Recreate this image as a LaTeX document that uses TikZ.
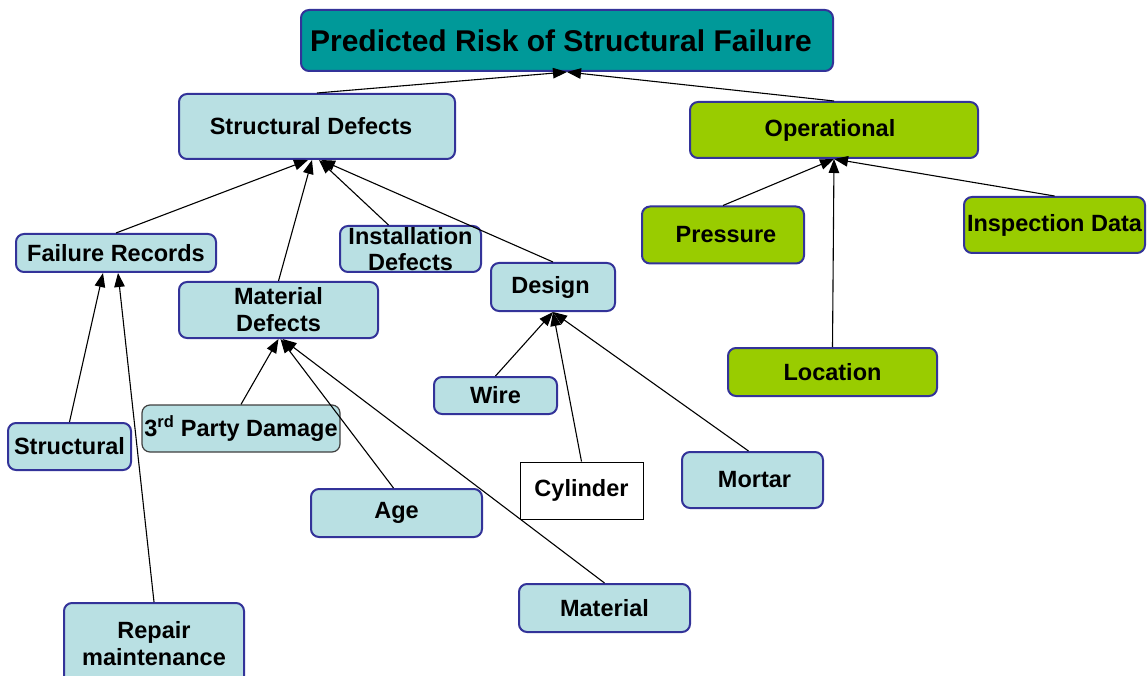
\documentclass[tikz,border=0pt]{standalone}
\usepackage{fontspec}
\setmainfont{Liberation Sans}
\usetikzlibrary{arrows.meta}
\definecolor{lblue}{HTML}{B9E0E3}
\definecolor{tealbox}{HTML}{009999}
\definecolor{lgreen}{HTML}{99CC00}
\definecolor{bblue}{HTML}{333399}
\definecolor{dgray}{HTML}{404040}
\begin{document}
\begin{tikzpicture}[x=1pt,y=-1pt,
  box/.style={draw=bblue, line width=2pt, rounded corners=8pt, fill=lblue, inner sep=0pt,
    font=\fontsize{23.5}{27}\selectfont\bfseries, align=center},
  gbox/.style={box, fill=lgreen},
  topbox/.style={box, fill=tealbox, font=\fontsize{30}{34}\selectfont\bfseries},
  grbox/.style={box, draw=dgray, line width=1.2pt},
  cbox/.style={box, draw=black, line width=1pt, rounded corners=0pt, fill=white},
  arr/.style={-{Triangle[length=14pt,width=10.5pt]}, line width=1.1pt}]
\useasboundingbox (0,0) rectangle (1148,676);

\node[topbox, minimum width=532, minimum height=61] (top) at (567,40.5) {Predicted Risk of Structural Failure\hspace*{12pt}};
\node[box, minimum width=276, minimum height=65] (sd) at (317,126.5) {Structural Defects\hspace*{12pt}};
\node[gbox, minimum width=288, minimum height=56] (op) at (834,130) {Operational\hspace*{8pt}};
\node[box, minimum width=200, minimum height=38] (fr) at (116,253) {Failure Records};
\node[box, minimum width=141, minimum height=46,
  label={[font=\fontsize{23.5}{26}\selectfont\bfseries, align=center]center:Installation\\Defects}] (inst) at (410.5,249) {};
\node[box, minimum width=199, minimum height=56] (md) at (278.5,310) {Material\\Defects};
\node[box, minimum width=124, minimum height=48] (design) at (553,287) {Design\hspace*{5pt}};
\node[gbox, minimum width=162, minimum height=57] (pres) at (723,235) {\hspace*{6pt}Pressure};
\node[gbox, minimum width=181, minimum height=56] (insp) at (1054.5,225) {Inspection Data};
\node[gbox, minimum width=209, minimum height=48] (loc) at (832.5,372) {Location};
\node[box, minimum width=123, minimum height=37] (wire) at (495.5,395.5) {Wire};
\node[grbox, minimum width=198, minimum height=47] (third) at (241,428.5) {3\textsuperscript{rd} Party Damage};
\node[box, minimum width=123, minimum height=47] (struct) at (69.5,446.5) {Structural};
\node[cbox, minimum width=123, minimum height=57] (cyl) at (581.5,490.5) {Cylinder};
\node[box, minimum width=141, minimum height=56] (mortar) at (752.5,480) {\hspace*{4pt}Mortar};
\node[box, minimum width=171, minimum height=48] (age) at (396.5,513) {Age};
\node[box, minimum width=171, minimum height=48] (mat) at (604.5,608) {Material};
\node[box, minimum width=180, minimum height=82] (rep) at (154,644) {Repair\\maintenance};

\draw[arr] (sd.north) -- (top.south);
\draw[arr] (op.north) -- (top.south);

\draw[arr] (fr.north) -- ([xshift=-9]sd.south);
\draw[arr] (md.north) -- ([xshift=-5]sd.south);
\draw[arr] ([xshift=-22]inst.north) -- ([xshift=2]sd.south);
\draw[arr] (design.north) -- ([xshift=4]sd.south);

\draw[arr] (pres.north) -- (op.south);
\draw[arr] (loc.north) -- (op.south);
\draw[arr] (insp.north) -- (op.south);

\draw[arr] (struct.north) -- ([xshift=-13]fr.south);
\draw[arr] (rep.north) -- ([xshift=2]fr.south);

\draw[arr] (third.north) -- (md.south);
\draw[arr] ([xshift=-3]age.north) -- ([xshift=2]md.south);
\draw[arr] (mat.north) -- ([xshift=4]md.south);

\draw[arr] (wire.north) -- (design.south);
\draw[arr] (cyl.north) -- (design.south);
\draw[arr] ([xshift=-4]mortar.north) -- (design.south);
\end{tikzpicture}
\end{document}
